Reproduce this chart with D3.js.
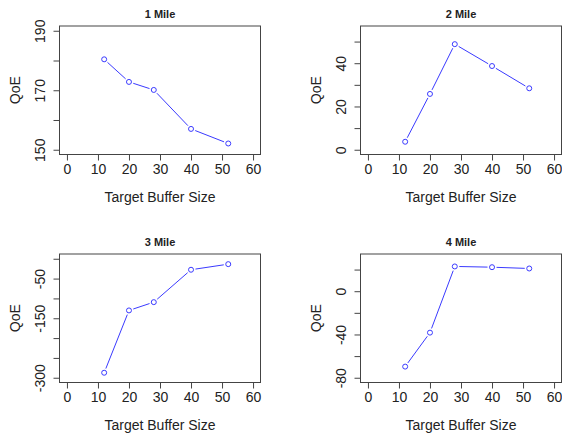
<!DOCTYPE html>
<html>
<head>
<meta charset="utf-8">
<script src="https://cdn.jsdelivr.net/npm/d3@7"></script>
<style>
  body { margin: 0; background: #fff; }
  text { font-family: "Liberation Sans", Arial, Helvetica, sans-serif; fill: #222; }
</style>
</head>
<body>
<div id="chart"></div>
<script>
// target buffer sizes (shared by every panel)
const bufferSizes = [12, 20, 28, 40, 52];

// QoE per distance
const qoe1Mile = [180.4, 172.8, 170.1, 157.0, 152.1];
const qoe2Mile = [3.7, 25.8, 48.8, 38.7, 28.4];
const qoe3Mile = [-287.4, -130.3, -109.4, -27.7, -13.6];
const qoe4Mile = [-69.7, -38.3, 22.9, 22.2, 21.0];

const panelTitles = ["1 Mile", "2 Mile", "3 Mile", "4 Mile"];

// y limits and ticks (R style: only some ticks get a label)
const yLimits = [[150, 190], [0, 55], [-300, 0], [-80, 30]];
const yTicks = [
    [150, 160, 170, 180, 190],
    [0, 10, 20, 30, 40, 50],
    [-300, -250, -200, -150, -100, -50, 0],
    [-80, -60, -40, -20, 0, 20]
];
const yTickLabels = [
    [150, 170, 190],
    [0, 20, 40],
    [-300, -150, -50],
    [-80, -40, 0]
];
const xLimits = [0, 60];
const xTicks = [0, 10, 20, 30, 40, 50, 60];

const series = [qoe1Mile, qoe2Mile, qoe3Mile, qoe4Mile];

const width = 562, height = 433;
const svg = d3.select("#chart").append("svg")
    .attr("width", width)
    .attr("height", height);

// plot box of the first panel, others are shifted
const box = {left: 59.5, right: 260.5, top: 26, bottom: 154.5};
const colStep = 301, rowStep = 228;
const fontSize = 14;

// R adds 4% on each side of the limits
function extend(lim) {
    const d = (lim[1] - lim[0]) * 0.04;
    return [lim[0] - d, lim[1] + d];
}

series.forEach(function (values, i) {
    const col = i % 2, row = Math.floor(i / 2);
    const left = box.left + col * colStep;
    const right = box.right + col * colStep;
    const top = box.top + row * rowStep;
    const bottom = box.bottom + row * rowStep;

    const x = d3.scaleLinear().domain(extend(xLimits)).range([left, right]);
    const y = d3.scaleLinear().domain(extend(yLimits[i])).range([bottom, top]);

    const g = svg.append("g");

    // box
    g.append("rect")
        .attr("x", left).attr("y", top)
        .attr("width", right - left).attr("height", bottom - top)
        .attr("fill", "none").attr("stroke", "#444").attr("stroke-width", 1);

    // x axis
    const xAxis = g.append("g").attr("transform", "translate(0," + bottom + ")")
        .call(d3.axisBottom(x).tickValues(xTicks).tickSize(6).tickPadding(4).tickSizeOuter(0));
    xAxis.select(".domain").attr("d", "M" + x(xLimits[0]) + ",0H" + x(xLimits[1])).attr("stroke", "#444");
    xAxis.selectAll(".tick line").attr("stroke", "#444");
    xAxis.selectAll(".tick text").attr("font-size", fontSize).attr("fill", "#222")
        .attr("font-family", "Liberation Sans, Arial, sans-serif");

    // y axis, labels parallel to the axis
    const yl = yLimits[i];
    const yAxis = g.append("g").attr("transform", "translate(" + left + ",0)")
        .call(d3.axisLeft(y).tickValues(yTicks[i]).tickSize(6).tickSizeOuter(0)
            .tickFormat(d => yTickLabels[i].includes(d) ? d : ""));
    yAxis.select(".domain").attr("d", "M0," + y(yl[0]) + "V" + y(yl[1])).attr("stroke", "#444");
    yAxis.selectAll(".tick line").attr("stroke", "#444");
    yAxis.selectAll(".tick text")
        .attr("font-size", fontSize).attr("fill", "#222")
        .attr("font-family", "Liberation Sans, Arial, sans-serif")
        .attr("text-anchor", "middle")
        .attr("x", 0).attr("y", 0).attr("dy", 0)
        .attr("dominant-baseline", "central")
        .attr("transform", "translate(-19.5,0) rotate(-90)");

    // title
    g.append("text")
        .attr("x", (left + right) / 2).attr("y", top - 8.5)
        .attr("text-anchor", "middle")
        .attr("font-size", 11).attr("font-weight", "bold")
        .text(panelTitles[i]);

    // axis titles
    g.append("text")
        .attr("x", (left + right) / 2).attr("y", bottom + 47.5)
        .attr("text-anchor", "middle")
        .attr("font-size", fontSize)
        .text("Target Buffer Size");
    g.append("text")
        .attr("transform", "translate(" + (left - 39.5) + "," + ((top + bottom) / 2) + ") rotate(-90)")
        .attr("text-anchor", "middle")
        .attr("font-size", fontSize)
        .text("QoE");

    // lines with gaps around points (type = "b")
    const pts = bufferSizes.map((b, j) => [x(b), y(values[j])]);
    const gap = 4.5;
    for (let j = 0; j < pts.length - 1; j++) {
        const [x1, y1] = pts[j], [x2, y2] = pts[j + 1];
        const len = Math.hypot(x2 - x1, y2 - y1);
        if (len <= 2 * gap) continue;
        const ux = (x2 - x1) / len, uy = (y2 - y1) / len;
        g.append("line")
            .attr("x1", x1 + ux * gap).attr("y1", y1 + uy * gap)
            .attr("x2", x2 - ux * gap).attr("y2", y2 - uy * gap)
            .attr("stroke", "#3a3aff").attr("stroke-width", 1);
    }

    g.selectAll("circle")
        .data(values)
        .enter()
        .append("circle")
        .attr("cx", (d, j) => x(bufferSizes[j]))
        .attr("cy", d => y(d))
        .attr("r", 2.5)
        .attr("fill", "none")
        .attr("stroke", "#3a3aff")
        .attr("stroke-width", 1);
});
</script>
</body>
</html>
